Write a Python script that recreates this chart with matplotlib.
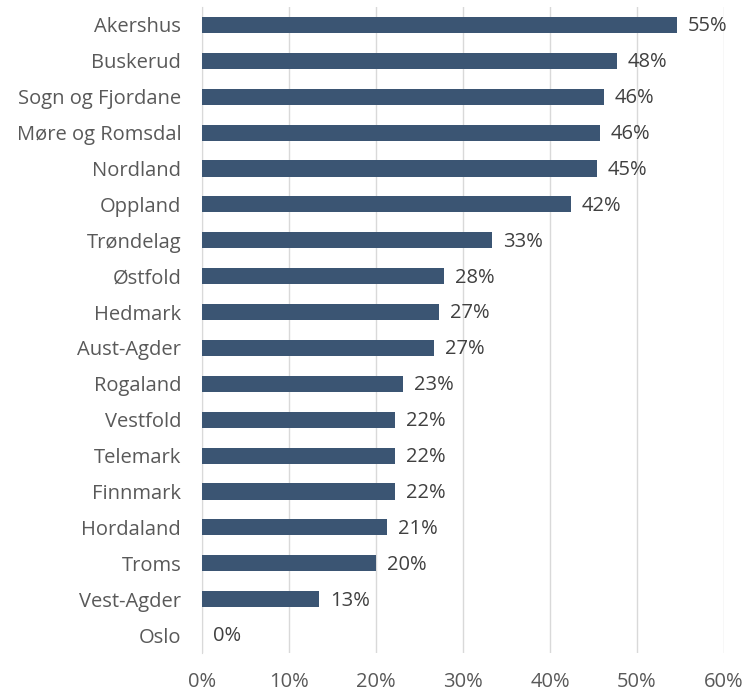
import matplotlib.pyplot as plt
from matplotlib.ticker import PercentFormatter

plt.rcParams['font.family'] = ['Open Sans', 'DejaVu Sans']

counties = ["Akershus", "Buskerud", "Sogn og Fjordane", "Møre og Romsdal", "Nordland",
            "Oppland", "Trøndelag", "Østfold", "Hedmark", "Aust-Agder", "Rogaland",
            "Vestfold", "Telemark", "Finnmark", "Hordaland", "Troms", "Vest-Agder", "Oslo"]
shares = [54.6, 47.7, 46.2, 45.7, 45.4, 42.4, 33.3, 27.8, 27.2, 26.7, 23.1,
          22.2, 22.2, 22.2, 21.3, 20.0, 13.4, 0.0]

bar_color = "#3b5573"
text_color = "#595959"

fig = plt.figure(figsize=(7.47, 6.95), dpi=100)
ax = fig.add_axes([202 / 747, 1 - 653 / 695, 522 / 747, 646 / 695])

ypos = list(range(len(counties)))
ax.barh(ypos, shares, height=0.45, color=bar_color, zorder=3)
ax.set_ylim(len(counties) - 0.5, -0.5)
ax.set_xlim(0, 60)
ax.set_yticks(ypos)
ax.set_yticklabels(counties)
ax.set_xticks(range(0, 61, 10))
ax.xaxis.set_major_formatter(PercentFormatter(decimals=0))

for y, v in zip(ypos, shares):
    ax.annotate(f"{v:.0f}%", (v, y), xytext=(8, -1), textcoords="offset points",
                va="center", ha="left", fontsize=14.5, color="#404040")

ax.grid(axis="x", color="#d9d9d9", linewidth=1, zorder=0)
for s in ["top", "right", "bottom"]:
    ax.spines[s].set_visible(False)
ax.spines["left"].set_color("#d9d9d9")
ax.tick_params(axis="both", length=0, labelsize=14.5, colors=text_color)
ax.tick_params(axis="x", pad=14)
ax.tick_params(axis="y", pad=15)

fig.savefig("out.png", dpi=100)
